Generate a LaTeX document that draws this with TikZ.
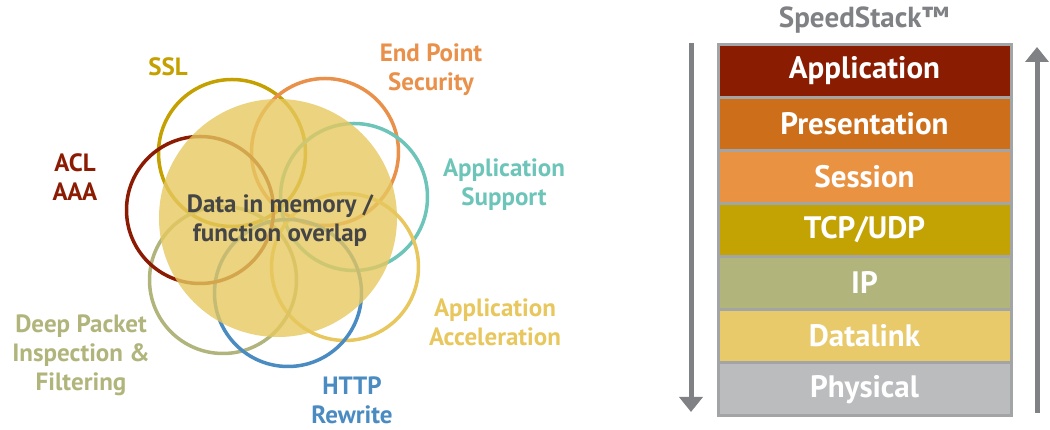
\documentclass[tikz,border=0pt]{standalone}
\usepackage{fontspec}
\setmainfont{PT Sans}
\usetikzlibrary{positioning}
\usetikzlibrary{arrows.meta}

\definecolor{sslcol}{HTML}{C4A000}
\definecolor{endcol}{HTML}{E9914A}
\definecolor{suppcol}{HTML}{6DC5B9}
\definecolor{accelcol}{HTML}{E8C75E}
\definecolor{httpcol}{HTML}{4A8BC2}
\definecolor{dpicol}{HTML}{B1B57C}
\definecolor{aclcol}{HTML}{8B1C03}
\definecolor{corecol}{HTML}{E6C85F}
\definecolor{textgray}{HTML}{454545}
\definecolor{stackgray}{HTML}{A3A4A6}
\definecolor{arrowgray}{HTML}{808185}
\definecolor{appcol}{HTML}{8A1C02}
\definecolor{prescol}{HTML}{CD6F1A}
\definecolor{sesscol}{HTML}{E99242}
\definecolor{tcpcol}{HTML}{C3A204}
\definecolor{ipcol}{HTML}{B1B57C}
\definecolor{linkcol}{HTML}{E8CA6A}
\definecolor{physcol}{HTML}{BBBCBE}

\begin{document}
\begin{tikzpicture}[x=1pt,y=1pt,
    ring/.style={line width=3.5pt},
    lbl/.style={font=\bfseries\fontsize{25}{29}\selectfont, align=center, inner sep=1pt},
    layer/.style={draw=stackgray, line width=3pt, minimum width=293pt,
        minimum height=53.1pt, inner sep=0pt, outer sep=0pt, text=white,
        font=\bfseries\fontsize{31}{34}\selectfont},
    flow/.style={draw=arrowgray, line width=5pt, ->, >={Triangle[width=23pt,length=15pt]}}
]
    \useasboundingbox (0,0) rectangle (1050,430);

    \draw[ring, sslcol] (232,277) circle (73.5);
    \draw[ring, endcol] (325,278) circle (73.5);
    \draw[ring, suppcol] (354,233) circle (73.5);
    \draw[ring, accelcol] (345,163) circle (73.5);
    \draw[ring, dpicol] (223,150) circle (73.5);
    \draw[ring, httpcol] (288,137) circle (73.5);
    \draw[ring, aclcol] (200,220) circle (73.5);
    \fill[corecol, opacity=0.8] (278,212) circle (119);

    \node[lbl, text=textgray] (core) at (280,209) {Data in memory /\\function overlap};
    \node[lbl, text=sslcol] (ssl) at (168,363) {SSL};
    \node[lbl, text=endcol] (endpt) at (431,360) {End Point\\Security};
    \node[lbl, text=aclcol] (acl) at (75,253) {ACL\\AAA};
    \node[lbl, text=suppcol] (supp) at (504,245) {Application\\Support};
    \node[lbl, text=accelcol] (accel) at (495,108) {Application\\Acceleration};
    \node[lbl, text=dpicol] (dpi) at (81,75) {Deep Packet\\Inspection \&\\Filtering};
    \node[lbl, text=httpcol] (http) at (352,30) {HTTP\\Rewrite};

    \node[lbl, text=arrowgray, font=\bfseries\fontsize{29}{32}\selectfont] (title) at (864,410) {SpeedStack™};
    \node[layer, fill=appcol] (app) at (864.5,359.4) {Application};
    \node[layer, fill=prescol, below=0pt of app] (pres) {Presentation};
    \node[layer, fill=sesscol, below=0pt of pres] (sess) {Session};
    \node[layer, fill=tcpcol, below=0pt of sess] (tcp) {TCP/UDP};
    \node[layer, fill=ipcol, below=0pt of tcp] (ip) {IP};
    \node[layer, fill=linkcol, below=0pt of ip] (link) {Datalink};
    \node[layer, fill=physcol, below=0pt of link] (phys) {Physical};

    \coordinate (downtop) at (691,387);
    \coordinate (downend) at (691,18);
    \coordinate (upbase) at (1037,17);
    \coordinate (upend) at (1037,383);
    \draw[flow] (downtop) -- (downend);
    \draw[flow] (upbase) -- (upend);
\end{tikzpicture}
\end{document}
